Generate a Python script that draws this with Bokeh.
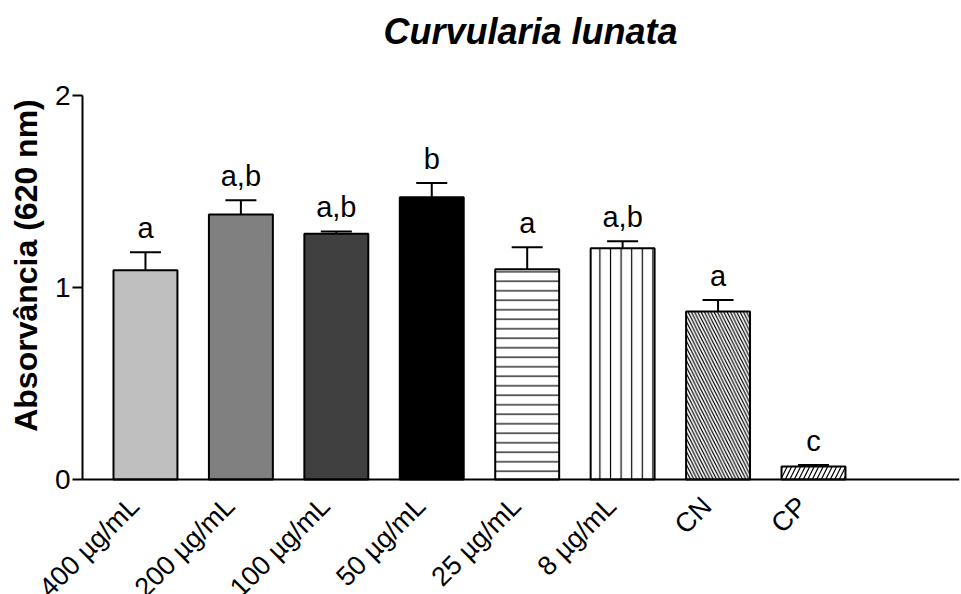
import math

from bokeh.core.properties import value
from bokeh.embed import file_html
from bokeh.models import (ColumnDataSource, FixedTicker, Label, LabelSet,
                          LinearAxis, Range1d, TeeHead, Whisker)
from bokeh.plotting import figure
from bokeh.resources import INLINE

# Treatments and measured absorbance (mean and SEM)
categories = ["400 µg/mL", "200 µg/mL", "100 µg/mL", "50 µg/mL",
              "25 µg/mL", "8 µg/mL", "CN", "CP"]
means = [1.09, 1.38, 1.28, 1.47, 1.095, 1.205, 0.875, 0.068]
sems = [0.094, 0.075, 0.012, 0.075, 0.115, 0.036, 0.06, 0.008]
letters = ["a", "a,b", "a,b", "b", "a", "a,b", "a", "c"]
y_ticks = [0, 1, 2]

# Bar styling
fills = ["#bfbfbf", "#808080", "#404040", "#000000",
         "white", "white", "white", "white"]
hatches = ["blank", "blank", "blank", "blank", "-", "|", "\\", "/"]
hatch_scales = [12, 12, 12, 12, 9.5, 10.6, 6.5, 9]

FONT = "Liberation Sans"
X_MIN, X_MAX = -1.519, 8.53
Y_MIN, Y_MAX = 0, 2
Y_AXIS_AT = -0.66          # x position of the vertical axis

xs = list(range(len(categories)))
src = ColumnDataSource(dict(
    x=xs,
    mean=means,
    upper=[m + s for m, s in zip(means, sems)],
    cat=categories,
    letter=letters,
    fill=fills,
    hatch=hatches,
    hscale=hatch_scales,
    zero=[0] * len(xs),
))

# The plotting area covers the whole canvas so that the title, the axis
# title and the slanted category names can all sit inside it.
p = figure(width=961, height=594, output_backend="svg", toolbar_location=None,
           x_range=Range1d(X_MIN, X_MAX), y_range=Range1d(-0.599, 2.495),
           x_axis_location=None, y_axis_location=None,
           min_border=0, min_border_right=2)
p.outline_line_color = None
p.grid.visible = False
p.background_fill_color = "white"
p.border_fill_color = "white"

p.vbar(x="x", top="mean", bottom=0, width=0.67, source=src,
       fill_color="fill", line_color="black", line_width=2,
       hatch_pattern="hatch", hatch_scale="hscale", hatch_weight=1.2,
       hatch_color="black")

whisker = Whisker(source=src, base="x", lower="mean", upper="upper",
                  dimension="height", line_width=2, line_color="black",
                  lower_head=None,
                  upper_head=TeeHead(size=31, line_width=2, line_color="black"))
p.add_layout(whisker)

# vertical axis, pinned at its data position
yaxis = LinearAxis(fixed_location=Y_AXIS_AT, bounds=(Y_MIN, Y_MAX),
                   ticker=FixedTicker(ticks=y_ticks),
                   axis_line_width=2, major_tick_line_width=2,
                   major_tick_out=10, major_tick_in=0,
                   minor_tick_line_color=None, major_label_standoff=2,
                   major_label_text_font=FONT,
                   major_label_text_font_size="28px",
                   major_label_text_color="black")
p.add_layout(yaxis, "left")

# horizontal axis line at zero, from the vertical axis to the right edge
xaxis = LinearAxis(fixed_location=0, bounds=(Y_AXIS_AT, X_MAX),
                   ticker=FixedTicker(ticks=[]), axis_line_width=2,
                   major_tick_line_color=None, minor_tick_line_color=None)
p.add_layout(xaxis, "below")

# significance letters above the error bars
p.add_layout(LabelSet(x="x", y="upper", text="letter", source=src,
                      y_offset=14, text_align="center",
                      text_baseline="alphabetic",
                      text_font=value(FONT), text_font_size="29px",
                      text_color="black"))

# slanted category names under the bars
p.add_layout(LabelSet(x="x", y="zero", text="cat", source=src,
                      angle=math.pi / 4, x_offset=-11, y_offset=-22,
                      text_align="right", text_baseline="middle",
                      text_font=value(FONT), text_font_size="27px",
                      text_color="black"))

# axis title
p.add_layout(Label(x=25, y=329, x_units="screen", y_units="screen",
                   angle=math.pi / 2, text="Absorvância (620 nm)",
                   text_font=FONT, text_font_style="bold",
                   text_font_size="32px", text_align="center",
                   text_baseline="middle", text_color="black"))

# chart title
p.add_layout(Label(x=530, y=563, x_units="screen", y_units="screen",
                   text="Curvularia lunata", text_font=FONT,
                   text_font_style="bold italic", text_font_size="36px",
                   text_align="center", text_baseline="middle",
                   text_color="black"))

open("out.html", "w").write(file_html(p, INLINE))
